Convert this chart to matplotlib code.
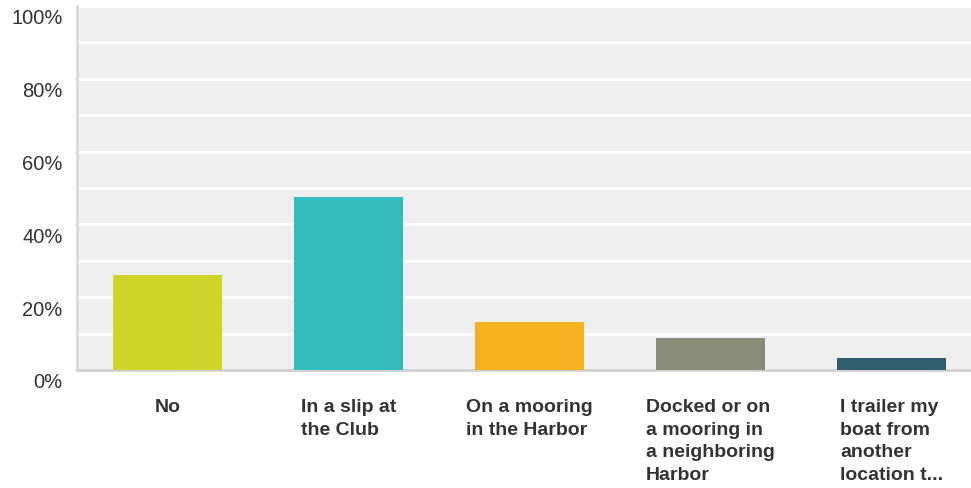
import matplotlib
matplotlib.use("Agg")
import matplotlib.pyplot as plt
import matplotlib.transforms as mtransforms
from matplotlib.ticker import MultipleLocator, FuncFormatter

# данные
categories = ["No", "In a slip at\nthe Club", "On a mooring\nin the Harbor",
              "Docked or on\na mooring in\na neighboring\nHarbor",
              "I trailer my\nboat from\nanother\nlocation t..."]
values = [26.1, 47.5, 13.2, 8.8, 3.3]
colors = ["#cfd42a", "#34bdbf", "#f7b020", "#8a8b79", "#2f5f6c"]

plt.rcParams['font.family'] = ['Liberation Sans', 'DejaVu Sans']

fig = plt.figure(figsize=(9.71, 4.89), dpi=100)
W, H = 971, 489
left, right, top, bottom = 77, 982, 7, 371
ax = fig.add_axes([left / W, 1 - bottom / H, (right - left) / W, (bottom - top) / H])
ax.set_facecolor("#efefef")

ax.bar(range(len(values)), values, width=0.6, color=colors, zorder=3)
ax.set_xlim(-0.5, len(values) - 0.5)
ax.set_ylim(0, 100)

ax.yaxis.set_major_locator(MultipleLocator(20))
ax.yaxis.set_minor_locator(MultipleLocator(10))
ax.yaxis.set_major_formatter(FuncFormatter(lambda v, p: f"{int(v)}%"))
ax.grid(axis='y', which='both', color='white', linewidth=2, zorder=1)
ax.set_axisbelow(True)

for s in ['top', 'right']:
    ax.spines[s].set_visible(False)
ax.spines['left'].set_color('#d9d9d9')
ax.spines['left'].set_linewidth(2)
ax.spines['bottom'].set_color('#d0d0d0')
ax.spines['bottom'].set_linewidth(2)

ax.tick_params(axis='y', which='both', length=0, pad=10.5, labelsize=14.5, labelcolor='#333333')
ax.tick_params(axis='x', length=0, pad=20, labelsize=14, labelcolor='#333333')

# сдвиг подписей оси Y немного вниз
offset = mtransforms.ScaledTranslation(0, -10 / 100, fig.dpi_scale_trans)
for lbl in ax.get_yticklabels():
    lbl.set_transform(lbl.get_transform() + offset)

ax.set_xticks(range(len(categories)))
ax.set_xticklabels(categories, fontweight='bold', ha='center', va='top',
                   multialignment='left')
for lbl in ax.get_xticklabels():
    lbl.set_linespacing(1.45)

fig.savefig("out.png", dpi=100)
